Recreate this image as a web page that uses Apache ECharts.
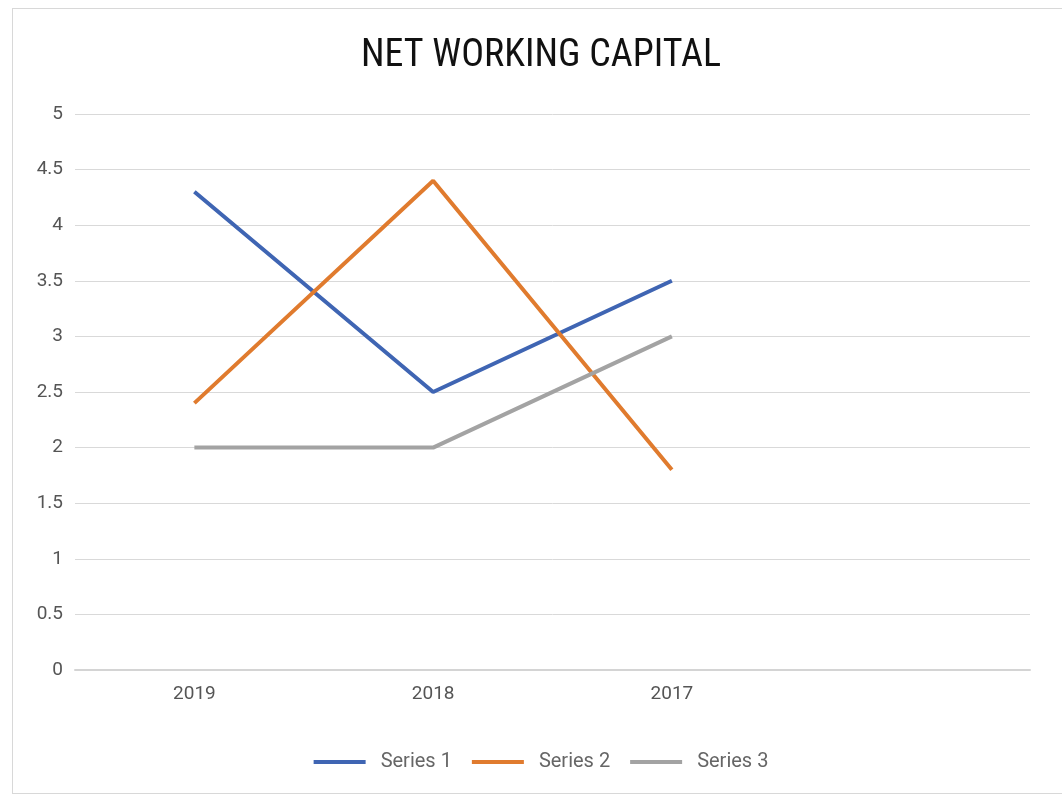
<!DOCTYPE html>
<html>
<head>
<meta charset="utf-8">
<script src="https://cdn.jsdelivr.net/npm/echarts@6/dist/echarts.min.js"></script>
<style>
  html, body { margin: 0; padding: 0; background: #ffffff; overflow: hidden; }
  #frame { position: absolute; left: 12px; top: 8px; width: 1062px; height: 786px; border: 1px solid #d8d8d8; box-sizing: border-box; }
  #chart { position: absolute; left: 10px; top: 0; width: 1062px; height: 799px; }
</style>
</head>
<body>
<div id="frame"></div>
<div id="chart"></div>
<script>
// Net working capital by year
const categories = ['2019', '2018', '2017', ''];
const series1 = [4.3, 2.5, 3.5, null];
const series2 = [2.4, 4.4, 1.8, null];
const series3 = [2, 2, 3, null];
const seriesNames = ['Series 1', 'Series 2', 'Series 3'];

const chart = echarts.init(document.getElementById('chart'), null, { renderer: 'canvas' });
const font = '"Roboto", "Noto Sans", sans-serif';
const colors = ['#3f65b3', '#e07b2e', '#a3a3a3'];

chart.setOption({
  animation: false,
  color: colors,
  title: {
    text: 'NET WORKING CAPITAL',
    left: 'center',
    top: 32,
    textStyle: { fontFamily: '"Liberation Sans Narrow", "Roboto Condensed", "Liberation Sans", sans-serif', fontSize: 38, fontWeight: 'normal', color: '#111' }
  },
  legend: {
    bottom: 22,
    left: 'center',
    itemWidth: 52,
    itemHeight: 4,
    itemGap: 20,
    icon: 'rect',
    textStyle: { fontFamily: font, fontSize: 20, color: '#666', padding: [0, 0, 0, 10] },
    data: seriesNames
  },
  grid: { left: 65, right: 42, top: 114, bottom: 129 },
  xAxis: {
    type: 'category',
    data: categories,
    boundaryGap: true,
    axisLine: { show: true, lineStyle: { color: '#d4d4d4', width: 2 } },
    axisTick: { show: false },
    axisLabel: { fontFamily: font, fontSize: 19, color: '#555', margin: 15 }
  },
  yAxis: {
    type: 'value',
    min: 0,
    max: 5,
    interval: 0.5,
    axisLine: { show: false },
    axisTick: { show: false },
    axisLabel: { fontFamily: font, fontSize: 19, color: '#555', margin: 12 },
    splitLine: { lineStyle: { color: '#d9d9d9', width: 1 } }
  },
  series: [
    { name: seriesNames[0], type: 'line', data: series1, symbol: 'none', lineStyle: { width: 4 } },
    { name: seriesNames[1], type: 'line', data: series2, symbol: 'none', lineStyle: { width: 4 } },
    { name: seriesNames[2], type: 'line', data: series3, symbol: 'none', lineStyle: { width: 4 } }
  ]
});
</script>
</body>
</html>
